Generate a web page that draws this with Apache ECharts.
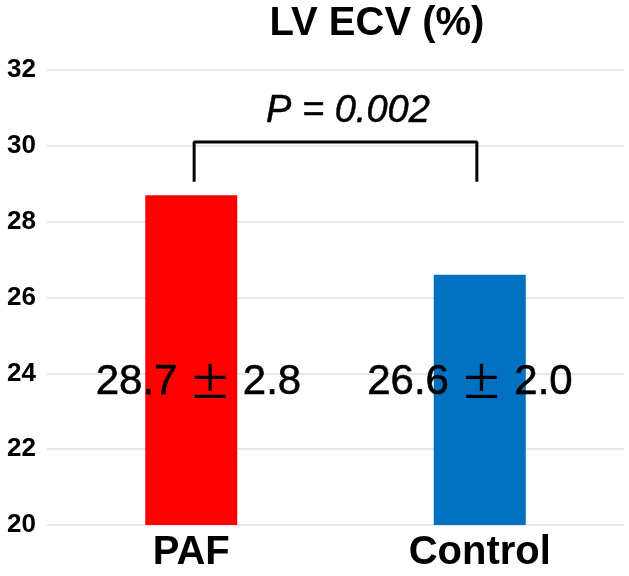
<!DOCTYPE html>
<html><head><meta charset="utf-8">
<script src="https://cdn.jsdelivr.net/npm/echarts@6/dist/echarts.min.js"></script>
<style>html,body{margin:0;padding:0;background:#fff}#c{width:629px;height:576px}</style>
</head><body><div id="c"></div>
<script>
var categories = ['PAF', 'Control'];
var means = [28.7, 26.6];
var sds = [2.8, 2.0];
var barColors = ['#FF0000', '#0070C0'];
var yTicks = [20, 22, 24, 26, 28, 30, 32];
var pText = 'P = 0.002';
// bracket in value-x space (category centers at 0.5, 1.5)
var bracketX = [0.51, 1.49];
var bracketY = [29.05, 30.1];
var pPos = [1.043, 30.9];
var meanLabelX = [0.525, 1.466];
var meanLabelY = 23.76;

var chart = echarts.init(document.getElementById('c'));
var font = 'Liberation Sans, Arial, sans-serif';
chart.setOption({
  animation: false,
  title: {
    text: 'LV ECV (%)', left: 372, top: -1, textAlign: 'center',
    textStyle: {fontFamily: font, fontSize: 40, fontWeight: 'bold', color: '#000'}
  },
  grid: {left: 47, right: 5, top: 70, bottom: 51},
  xAxis: [{
    type: 'category', data: categories,
    axisLine: {show: false}, axisTick: {show: false},
    axisLabel: {fontFamily: font, fontSize: 40, fontWeight: 'bold', color: '#000', margin: 8}
  }, {
    type: 'value', min: 0, max: 2, show: false
  }],
  yAxis: {
    type: 'value', min: yTicks[0], max: yTicks[yTicks.length - 1], interval: 2,
    axisLine: {show: false}, axisTick: {show: false},
    splitLine: {lineStyle: {color: '#e0e0e0', width: 1.5}},
    axisLabel: {fontFamily: font, fontSize: 26, fontWeight: 'bold', color: '#000', margin: 11}
  },
  series: [{
    type: 'bar', xAxisIndex: 0, barWidth: 92,
    data: means.map(function (v, i) { return {value: v, itemStyle: {color: barColors[i]}}; })
  }, {
    type: 'line', xAxisIndex: 1, symbol: 'none',
    lineStyle: {color: '#000', width: 3}, z: 5,
    data: [[bracketX[0], bracketY[0]], [bracketX[0], bracketY[1]], [bracketX[1], bracketY[1]], [bracketX[1], bracketY[0]]]
  }, {
    type: 'scatter', xAxisIndex: 1, symbolSize: 0, z: 6,
    itemStyle: {opacity: 1},
    data: [pPos],
    label: {show: true, position: 'inside', formatter: pText, opacity: 1,
      fontFamily: font, fontSize: 38, fontStyle: 'italic', color: '#000',
      textBorderColor: '#000', textBorderWidth: 0.5}
  }, {
    type: 'scatter', xAxisIndex: 1, symbolSize: 0, z: 6,
    itemStyle: {opacity: 1},
    data: means.map(function (m, i) { return {value: [meanLabelX[i], meanLabelY], name: m.toFixed(1) + '|' + sds[i].toFixed(1)}; }),
    label: {show: true, position: 'inside', opacity: 1,
      formatter: function (p) { var s = p.name.split('|'); return '{a|' + s[0] + ' }{b|±}{a| ' + s[1] + '}'; },
      rich: {
        a: {fontFamily: font, fontSize: 42, color: '#000', textBorderColor: '#000', textBorderWidth: 0.6},
        b: {fontFamily: 'Noto Sans CJK JP', fontSize: 42, color: '#000', textBorderColor: '#000', textBorderWidth: 0.4}
      }}
  }]
});
</script></body></html>
